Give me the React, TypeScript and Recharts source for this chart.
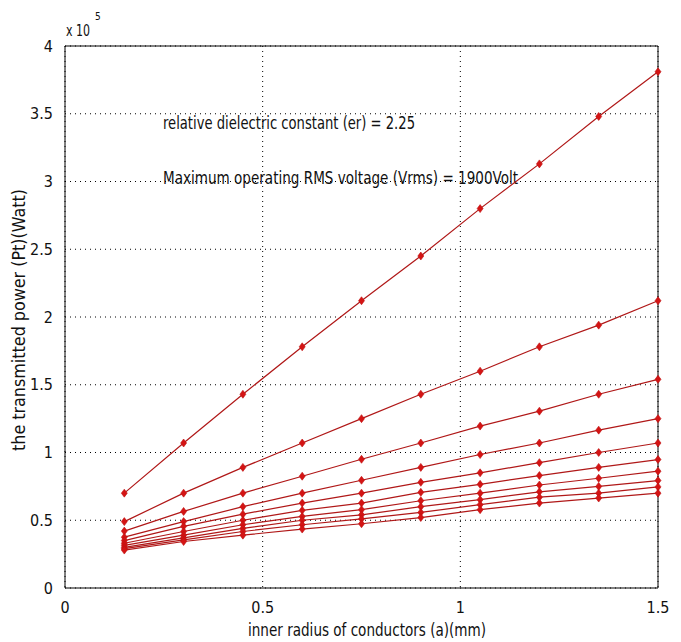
import { LineChart, Line, XAxis, YAxis, CartesianGrid, ReferenceLine } from 'recharts';

// inner radius a (mm)
const radius = [0.15, 0.3, 0.45, 0.6, 0.75, 0.9, 1.05, 1.2, 1.35, 1.5];

// transmitted power, in units of 10^5 W
const curve1 = [0.70, 1.07, 1.43, 1.78, 2.12, 2.45, 2.80, 3.13, 3.48, 3.81];
const curve2 = [0.49, 0.70, 0.89, 1.07, 1.25, 1.43, 1.60, 1.78, 1.94, 2.12];
const curve3 = [0.42, 0.565, 0.70, 0.825, 0.95, 1.07, 1.195, 1.305, 1.43, 1.54];
const curve4 = [0.375, 0.49, 0.60, 0.70, 0.795, 0.89, 0.985, 1.07, 1.165, 1.25];
const curve5 = [0.35, 0.455, 0.545, 0.627, 0.70, 0.78, 0.85, 0.925, 1.0, 1.07];
const curve6 = [0.33, 0.417, 0.50, 0.573, 0.627, 0.706, 0.765, 0.83, 0.89, 0.948];
const curve7 = [0.315, 0.39, 0.467, 0.528, 0.578, 0.644, 0.70, 0.76, 0.81, 0.862];
const curve8 = [0.30, 0.37, 0.44, 0.50, 0.54, 0.60, 0.652, 0.71, 0.75, 0.793];
const curve9 = [0.29, 0.355, 0.417, 0.467, 0.51, 0.558, 0.615, 0.67, 0.70, 0.746];
const curve10 = [0.28, 0.343, 0.39, 0.435, 0.474, 0.52, 0.578, 0.627, 0.664, 0.70];

const xTicks = [0, 0.5, 1, 1.5];
const yTicks = [0, 0.5, 1, 1.5, 2, 2.5, 3, 3.5, 4];

const curves = [curve1, curve2, curve3, curve4, curve5, curve6, curve7, curve8, curve9, curve10];

const data = radius.map((a, i) => {
  const row: Record<string, number> = { a };
  curves.forEach((c, k) => {
    row[`p${k + 1}`] = c[i];
  });
  return row;
});

const font = "'Liberation Sans Narrow', 'DejaVu Sans Condensed', 'Liberation Sans', sans-serif";

const Diamond = (props: any) => {
  const { cx, cy, index } = props;
  if (cx == null || cy == null) return null;
  return (
    <path
      key={`d-${index}`}
      d={`M${cx},${cy - 4}L${cx + 3},${cy}L${cx},${cy + 4}L${cx - 3},${cy}Z`}
      fill="#d41414"
      stroke="#c01010"
      strokeWidth={0.6}
    />
  );
};

export default function App() {
  return (
    <div style={{ position: 'absolute', left: 0, top: 0, width: 681, height: 642, background: '#fff' }}>
      <LineChart
        width={681}
        height={642}
        data={data}
        margin={{ top: 46, right: 23, bottom: 0, left: 0 }}
      >
        <CartesianGrid stroke="#000" strokeDasharray="1 4" strokeWidth={1} />
        <XAxis
          dataKey="a"
          type="number"
          domain={[0, 1.5]}
          ticks={xTicks}
          height={54}
          stroke="#000"
          tickLine={false}
          tickMargin={8}
          tick={{ fill: '#111', fontSize: 16, fontFamily: font }}
        />
        <YAxis
          type="number"
          domain={[0, 4]}
          ticks={yTicks}
          width={65}
          stroke="#000"
          tickLine={false}
          tickMargin={6}
          tick={{ fill: '#111', fontSize: 16, fontFamily: font }}
        />
        <ReferenceLine x={1.5} stroke="#000" />
        <ReferenceLine y={4} stroke="#000" />
        {curves.map((_, k) => (
          <Line
            key={k}
            dataKey={`p${k + 1}`}
            type="linear"
            stroke="#b01818"
            strokeWidth={1.2}
            dot={<Diamond />}
            activeDot={false}
            isAnimationActive={false}
          />
        ))}
        <text x={163} y={129} fontSize={17} fontFamily={font} fill="#111" textLength={252} lengthAdjust="spacingAndGlyphs">
          relative dielectric constant (er) = 2.25
        </text>
        <text x={163} y={184} fontSize={17} fontFamily={font} fill="#111" textLength={355} lengthAdjust="spacingAndGlyphs">
          Maximum operating RMS voltage (Vrms) = 1900Volt
        </text>
        <text x={66} y={36} fontSize={15} fontFamily={font} fill="#111" textLength={24} lengthAdjust="spacingAndGlyphs">
          x 10
        </text>
        <text x={95} y={20} fontSize={10} fontFamily={font} fill="#111">
          5
        </text>
        <text
          x={0}
          y={0}
          transform="translate(25,320) rotate(-90)"
          textAnchor="middle"
          fontSize={17}
          fontFamily={font}
          fill="#111"
          textLength={262}
          lengthAdjust="spacingAndGlyphs"
        >
          the transmitted power (Pt)(Watt)
        </text>
        <text
          x={367}
          y={636}
          textAnchor="middle"
          fontSize={17}
          fontFamily={font}
          fill="#111"
          textLength={238}
          lengthAdjust="spacingAndGlyphs"
        >
          inner radius of conductors (a)(mm)
        </text>
      </LineChart>
    </div>
  );
}
